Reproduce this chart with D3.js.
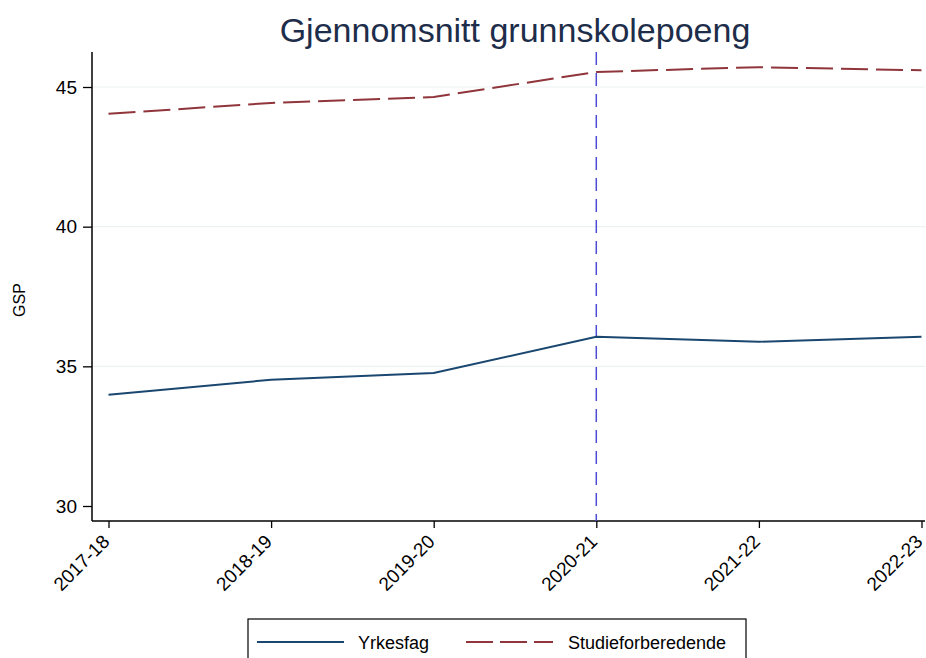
<!DOCTYPE html>
<html>
<head>
<meta charset="utf-8">
<script src="https://cdn.jsdelivr.net/npm/d3@7"></script>
<style>
  body { margin: 0; background: #fff; }
  svg { font-family: Arial, "Liberation Sans", sans-serif; }
</style>
</head>
<body>
<svg width="926" height="658"></svg>
<script>
// data
const years = ['2017-18', '2018-19', '2019-20', '2020-21', '2021-22', '2022-23'];
const yrkesfag = [33.98, 34.52, 34.76, 36.06, 35.88, 36.06];
const studie = [44.04, 44.43, 44.64, 45.54, 45.71, 45.60];
const yTicks = [30, 35, 40, 45];
const markYear = '2020-21';

const svg = d3.select('svg');
const width = +svg.attr('width');
const height = +svg.attr('height');

const margin = { top: 52, right: 1, bottom: 137, left: 92 };
const innerWidth = width - margin.left - margin.right;
const innerHeight = height - margin.top - margin.bottom;

const xScale = d3.scalePoint()
  .domain(years)
  .range([108.5 - margin.left, 921.5 - margin.left]);

const yScale = d3.scaleLinear()
  .domain([30, 45])
  .range([506 - margin.top, 87 - margin.top]);

const g = svg.append('g')
  .attr('transform', `translate(${margin.left},${margin.top})`);

// grid
g.selectAll('.grid').data(yTicks.slice(1))
  .enter().append('line')
    .attr('x1', 0).attr('x2', innerWidth)
    .attr('y1', d => yScale(d)).attr('y2', d => yScale(d))
    .attr('stroke', '#eaf2f3').attr('stroke-width', 1.2);

// axes
const yAxis = g.append('g')
  .call(d3.axisLeft(yScale).tickValues(yTicks).tickSize(9).tickPadding(6));
yAxis.select('.domain').remove();
yAxis.selectAll('text').attr('font-size', 19).attr('fill', '#000');
yAxis.selectAll('line').attr('stroke', '#000').attr('stroke-width', 1.3);

g.append('line')
  .attr('x1', 0).attr('x2', 0).attr('y1', 0).attr('y2', innerHeight)
  .attr('stroke', '#000').attr('stroke-width', 1.5);

const xAxis = g.append('g')
  .attr('transform', `translate(0,${innerHeight})`)
  .call(d3.axisBottom(xScale).tickSize(7).tickPadding(4));
xAxis.select('.domain').remove();
xAxis.selectAll('line').attr('stroke', '#000').attr('stroke-width', 1.3);
xAxis.selectAll('text')
  .attr('font-size', 19).attr('fill', '#000')
  .attr('text-anchor', 'end')
  .attr('y', 0).attr('dy', '0.35em')
  .attr('transform', 'translate(-3,17) rotate(-45)');

g.append('line')
  .attr('x1', 0).attr('x2', innerWidth).attr('y1', innerHeight).attr('y2', innerHeight)
  .attr('stroke', '#000').attr('stroke-width', 1.5);

// vertical reference line
g.append('line')
  .attr('x1', xScale(markYear)).attr('x2', xScale(markYear))
  .attr('y1', 0).attr('y2', innerHeight)
  .attr('stroke', '#4b4bd6').attr('stroke-width', 1.5)
  .attr('stroke-dasharray', '13,8');

const line = d3.line()
  .x((d, i) => xScale(years[i]))
  .y(d => yScale(d));

g.append('path').datum(yrkesfag)
  .attr('d', line).attr('fill', 'none')
  .attr('stroke', '#1a476f').attr('stroke-width', 2);

g.append('path').datum(studie)
  .attr('d', line).attr('fill', 'none')
  .attr('stroke', '#90353b').attr('stroke-width', 2)
  .attr('stroke-dasharray', '27,8');

// y label
svg.append('text')
  .attr('transform', 'translate(25,300) rotate(-90)')
  .attr('text-anchor', 'middle')
  .attr('font-size', 16)
  .text('GSP');

// title
svg.append('text')
  .attr('x', 515).attr('y', 42)
  .attr('text-anchor', 'middle')
  .attr('font-size', 34)
  .attr('fill', '#1e2d4a')
  .text('Gjennomsnitt grunnskolepoeng');

// legend
const legend = svg.append('g');
legend.append('rect')
  .attr('x', 248).attr('y', 619).attr('width', 498).attr('height', 60)
  .attr('fill', '#fff').attr('stroke', '#000').attr('stroke-width', 1.2);

const items = [
  { name: 'Yrkesfag', color: '#1a476f', dash: null, x: 257, tx: 358 },
  { name: 'Studieforberedende', color: '#90353b', dash: '27,7', x: 466, tx: 568 }
];
items.forEach(it => {
  legend.append('line')
    .attr('x1', it.x).attr('x2', it.x + 87).attr('y1', 642).attr('y2', 642)
    .attr('stroke', it.color).attr('stroke-width', 2)
    .attr('stroke-dasharray', it.dash);
  legend.append('text')
    .attr('x', it.tx).attr('y', 649)
    .attr('font-size', 18)
    .text(it.name);
});
</script>
</body>
</html>
